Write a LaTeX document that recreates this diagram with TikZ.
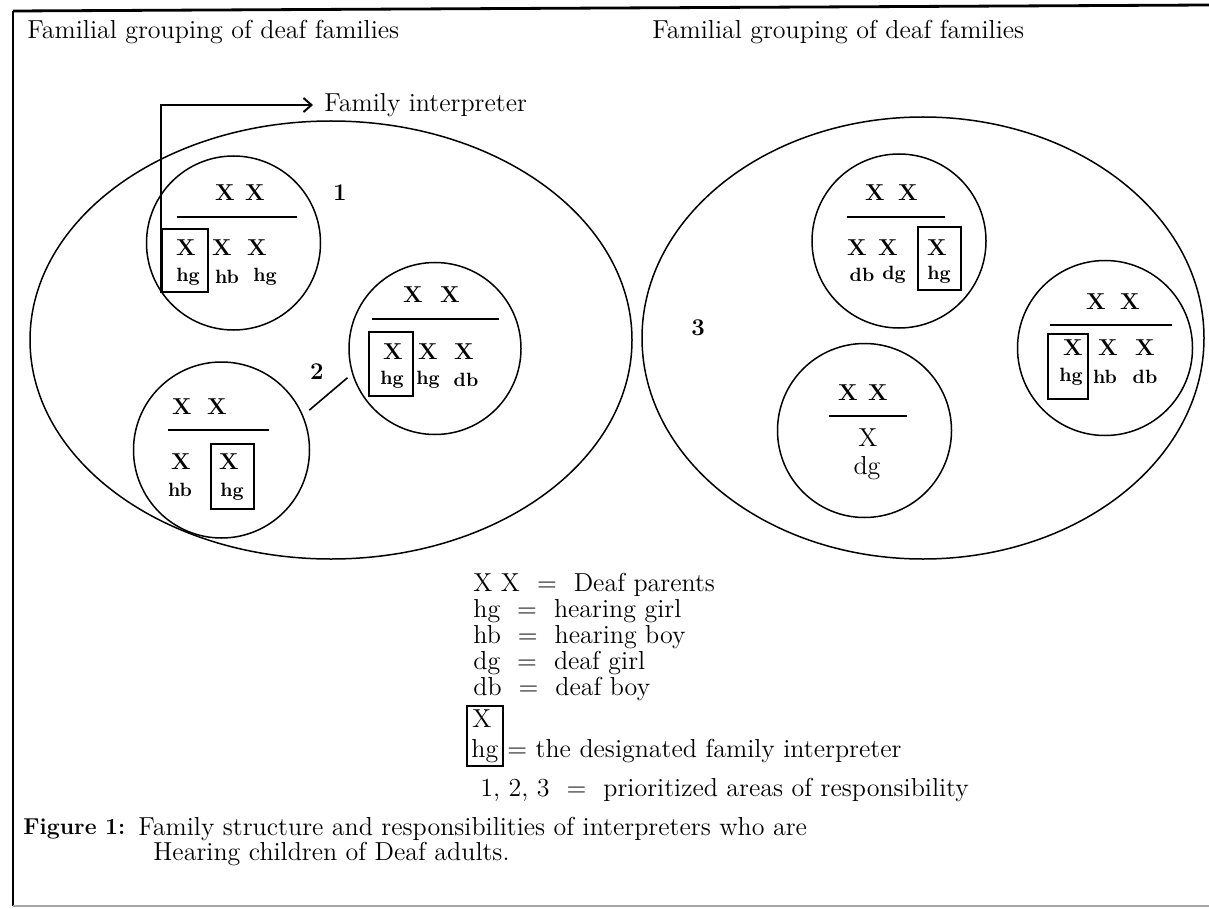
\documentclass[tikz,border=0pt]{standalone}
\usetikzlibrary{shapes.geometric,arrows.meta}
\begin{document}
\begin{tikzpicture}[x=0.5pt,y=-0.5pt,
  ring/.style={circle, draw, line width=0.75pt, minimum size=#1, inner sep=0pt},
  oval/.style={ellipse, draw, line width=0.75pt, inner sep=0pt},
  ibox/.style={draw, line width=0.6pt, inner sep=0pt},
  par/.style={font=\bfseries\fontsize{11.5}{13}\selectfont, inner sep=0pt},
  kid/.style={font=\bfseries\fontsize{9.6}{11}\selectfont, inner sep=0pt},
  big/.style={font=\fontsize{13}{15}\selectfont, inner sep=0pt},
  bar/.style={line width=0.7pt},
  txt/.style={font=\fontsize{13}{15}\selectfont, inner sep=0pt, anchor=west},
  num/.style={font=\bfseries\fontsize{12}{14}\selectfont, inner sep=0pt}]
\useasboundingbox (0,0) rectangle (1209,909);
% frame
\coordinate (ftl) at (13,11);
\coordinate (ftr) at (1209,5);
\coordinate (fbl) at (13,906);
\coordinate (fbr) at (1209,906);
\draw[line width=1.4pt] (ftl) -- (ftr);
\draw[line width=0.9pt] (ftl) -- (fbl);
\draw[line width=0.6pt, black!35] (fbl) -- (fbr);
% titles
\node[txt] (t1) at (27,32) {Familial grouping of deaf families};
\node[txt] (t2) at (652,32) {Familial grouping of deaf families};
% big ellipses
\node[oval, minimum width=301pt, minimum height=219pt] (E1) at (331,340) {};
\node[oval, minimum width=281pt, minimum height=221pt] (E2) at (923,338) {};
% ---------- left group ----------
\node[ring=87pt] (c1) at (233.5,243) {};
\node[par] (c1p1) at (225,193) {X};
\node[par] (c1p2) at (255,193) {X};
\draw[bar] (177,217) -- (297,217);
\node[par] (c1k1) at (186,248) {X};
\node[par] (c1k2) at (222,248) {X};
\node[par] (c1k3) at (257,248) {X};
\node[kid] (c1l1) at (188,277) {hg};
\node[kid] (c1l2) at (227,277) {hb};
\node[kid] (c1l3) at (265,277) {hg};
\node[ibox, minimum width=23pt, minimum height=31.5pt] (b1) at (185,260.5) {};
\node[num] (n1) at (340,193) {1};
\node[txt, inner xsep=5.5pt] (fi) at (313,105) {Family interpreter};
\draw[line width=1pt, -{Straight Barb[length=4pt,width=7pt]}] (b1.south west) |- (fi.west);

\node[ring=86pt] (c2) at (435,348.5) {};
\node[par] (c2p1) at (413,295) {X};
\node[par] (c2p2) at (450,295) {X};
\draw[bar] (372,319) -- (499,319);
\node[par] (c2k1) at (393,352) {X};
\node[par] (c2k2) at (428,352) {X};
\node[par] (c2k3) at (464,352) {X};
\node[kid] (c2l1) at (392,380) {hg};
\node[kid] (c2l2) at (428,380) {hg};
\node[kid] (c2l3) at (466,380) {db};
\node[ibox, minimum width=22pt, minimum height=32pt] (b2) at (391,364) {};

\node[ring=88pt] (c3) at (221.5,450) {};
\node[par] (c3p1) at (182,407) {X};
\node[par] (c3p2) at (217,407) {X};
\draw[bar] (168,430) -- (269,430);
\node[par] (c3k1) at (181,462) {X};
\node[par] (c3k2) at (229,462) {X};
\node[kid] (c3l1) at (180,490) {hb};
\node[kid] (c3l2) at (232,492) {hg};
\node[ibox, minimum width=21.5pt, minimum height=32.5pt] (b3) at (232.5,476.5) {};
\node[num] (n2) at (317,372) {2};
\draw[line width=0.8pt, shorten <=4pt, shorten >=3pt] (c3.23) -- (c2.197);
% ---------- right group ----------
\node[ring=87pt] (cA) at (899,241) {};
\node[par] (cAp1) at (875,193) {X};
\node[par] (cAp2) at (908,193) {X};
\draw[bar] (847,217) -- (945,217);
\node[par] (cAk1) at (857,248) {X};
\node[par] (cAk2) at (888,248) {X};
\node[par] (cAk3) at (937,248) {X};
\node[kid] (cAl1) at (862,275) {db};
\node[kid] (cAl2) at (894,275) {dg};
\node[kid] (cAl3) at (939,275) {hg};
\node[ibox, minimum width=21.5pt, minimum height=31.5pt] (bA) at (939.5,258.5) {};

\node[ring=87.5pt] (cB) at (1105,348) {};
\node[par] (cBp1) at (1096,302) {X};
\node[par] (cBp2) at (1130,302) {X};
\draw[bar] (1050,325) -- (1172,325);
\node[par] (cBk1) at (1073,348) {X};
\node[par] (cBk2) at (1108,348) {X};
\node[par] (cBk3) at (1145,348) {X};
\node[kid] (cBl1) at (1071,377) {hg};
\node[kid] (cBl2) at (1105,377) {hb};
\node[kid] (cBl3) at (1145,377) {db};
\node[ibox, minimum width=20pt, minimum height=32.5pt] (bB) at (1068,366.5) {};

\node[ring=87pt] (cC) at (864.5,430.5) {};
\node[par] (cCp1) at (848,393) {X};
\node[par] (cCp2) at (878,393) {X};
\draw[bar] (829,416) -- (907,416);
\node[big] (cCk1) at (868,438) {X};
\node[big] (cCl1) at (867,468) {dg};
\node[num] (n3) at (698,328) {3};
% ---------- legend ----------
\node[txt] (L1) at (473,585) {X\ X\ \ =\ \ Deaf parents};
\node[txt] (L2) at (473,611) {hg\ \ =\ \ hearing girl};
\node[txt] (L3) at (473,637) {hb\ \ =\ \ hearing boy};
\node[txt] (L4) at (473,663) {dg\ \ =\ \ deaf girl};
\node[txt] (L5) at (473,689) {db\ \ =\ \ deaf boy};
\node[ibox, minimum width=18pt, minimum height=30pt] (Lb) at (485,736) {};
\node[txt] (L6a) at (472,719) {X};
\node[txt] (L6b) at (471,751) {hg};
\node[txt] (L6c) at (507,751) {= the designated family interpreter};
\node[txt] (L7) at (480,790) {1, 2, 3\ \ =\ \ prioritized areas of responsibility};
% ---------- caption ----------
\node[txt, font=\bfseries\fontsize{11.5}{14}\selectfont] (cap0) at (23,829) {Figure 1:};
\node[txt] (cap1) at (138,829) {Family structure and responsibilities of interpreters who are};
\node[txt] (cap2) at (153,854) {Hearing children of Deaf adults.};
\end{tikzpicture}
\end{document}
